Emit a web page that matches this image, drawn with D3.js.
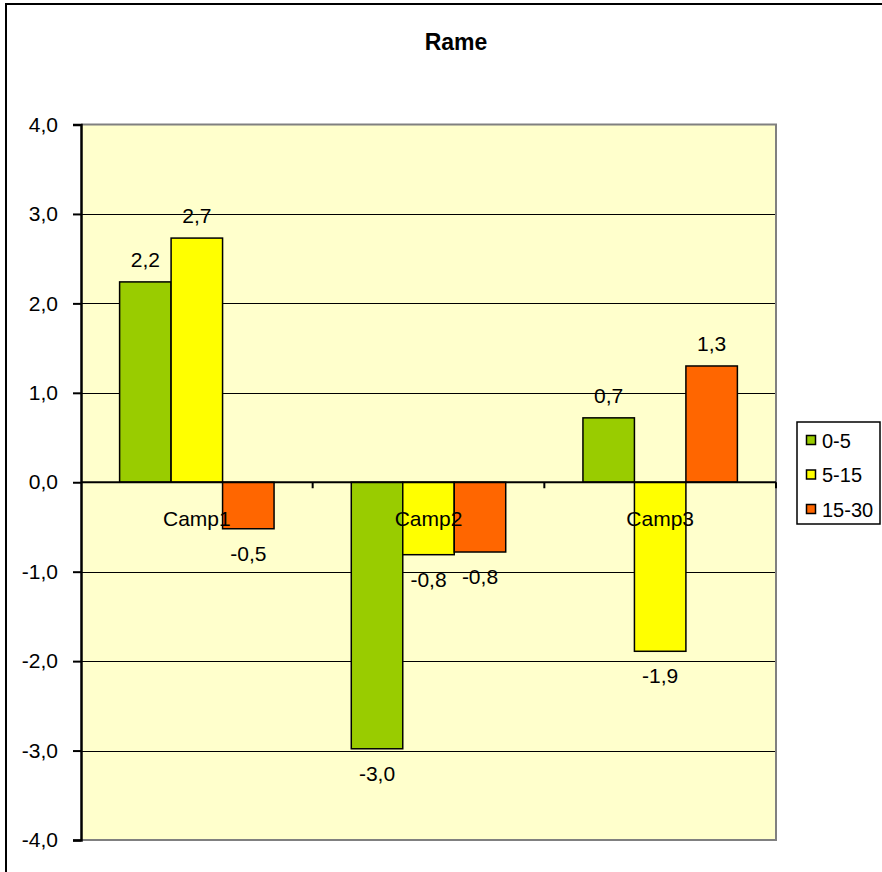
<!DOCTYPE html>
<html>
<head>
<meta charset="utf-8">
<script src="https://cdn.jsdelivr.net/npm/d3@7"></script>
<style>
  html, body { margin: 0; padding: 0; background: #fff; }
  svg { display: block; font-family: "Liberation Sans", Arial, sans-serif; }
</style>
</head>
<body>
<svg id="chart" width="882" height="872"></svg>
<script>
// Chart data
const categories = ["Camp1", "Camp2", "Camp3"];
const seriesNames = ["0-5", "5-15", "15-30"];
const values0to5 = [2.24, -2.98, 0.72];
const values5to15 = [2.73, -0.81, -1.89];
const values15to30 = [-0.52, -0.78, 1.30];
const yTickValues = [-4, -3, -2, -1, 0, 1, 2, 3, 4];
const title = "Rame";

const seriesColors = ["#99CC00", "#FFFF00", "#FF6600"];
const seriesValues = [values0to5, values5to15, values15to30];

const locale = d3.formatLocale({ decimal: ",", thousands: ".", grouping: [3], currency: ["", ""], minus: "-" });
const fmt = locale.format(".1f");

const svg = d3.select("#chart");

// Outer chart frame (extends past the right and bottom edges)
svg.append("rect")
  .attr("x", 6).attr("y", 4)
  .attr("width", 900).attr("height", 900)
  .attr("fill", "#fff").attr("stroke", "#000").attr("stroke-width", 2);

// Plot area geometry
const plot = { left: 81, right: 776, top: 124.5, bottom: 840 };

const y = d3.scaleLinear().domain([-4, 4]).range([plot.bottom, plot.top]);
const x = d3.scaleBand().domain(categories).range([plot.left, plot.right]).padding(0);
// gap between groups equals 1.5 bar widths
const bw = x.bandwidth();
const barW = bw / (seriesNames.length + 1.5);
const xs = d3.scaleBand().domain(seriesNames)
  .range([(bw - barW * seriesNames.length) / 2, (bw + barW * seriesNames.length) / 2]).padding(0);

// Plot background
svg.append("rect")
  .attr("x", plot.left).attr("y", plot.top)
  .attr("width", plot.right - plot.left).attr("height", plot.bottom - plot.top)
  .attr("fill", "#FFFFCC");

// Horizontal gridlines
svg.append("g")
  .selectAll("line")
  .data(yTickValues.filter(v => v !== 4 && v !== -4 && v !== 0))
  .join("line")
  .attr("x1", plot.left).attr("x2", plot.right)
  .attr("y1", d => Math.round(y(d)) + 0.5).attr("y2", d => Math.round(y(d)) + 0.5)
  .attr("stroke", "#000").attr("stroke-width", 1);

// Plot border (top, right, bottom)
svg.append("path")
  .attr("d", `M${plot.left},${plot.top}H${plot.right}V${plot.bottom}H${plot.left}`)
  .attr("fill", "none").attr("stroke", "#808080").attr("stroke-width", 2);

// Bars
const groups = svg.append("g").selectAll("g")
  .data(seriesNames)
  .join("g")
  .attr("fill", (d, i) => seriesColors[i]);

groups.selectAll("rect")
  .data((s, i) => categories.map((c, j) => ({ cat: c, series: s, v: seriesValues[i][j] })))
  .join("rect")
  .attr("x", d => x(d.cat) + xs(d.series))
  .attr("width", xs.bandwidth())
  .attr("y", d => y(Math.max(0, d.v)))
  .attr("height", d => Math.abs(y(d.v) - y(0)))
  .attr("stroke", "#000").attr("stroke-width", 1.5);

// Zero line and category tick marks
svg.append("line")
  .attr("x1", plot.left).attr("x2", plot.right)
  .attr("y1", y(0)).attr("y2", y(0))
  .attr("stroke", "#000").attr("stroke-width", 2);

const xAxis = d3.axisBottom(x).tickSize(0).tickFormat("");
const boundaries = categories.map(c => x(c) + bw);
svg.append("g")
  .selectAll("line")
  .data(boundaries)
  .join("line")
  .attr("x1", d => d).attr("x2", d => d)
  .attr("y1", y(0)).attr("y2", y(0) + 6)
  .attr("stroke", "#000").attr("stroke-width", 2);

// Category labels below the zero line
svg.append("g")
  .selectAll("text")
  .data(categories)
  .join("text")
  .attr("x", d => x(d) + bw / 2)
  .attr("y", y(0) + 44)
  .attr("text-anchor", "middle")
  .attr("font-size", 21)
  .attr("fill", "#000")
  .text(d => d);

// Y axis
const yAxis = d3.axisLeft(y).tickValues(yTickValues).tickSize(8).tickPadding(15).tickFormat(fmt);
const yg = svg.append("g").attr("transform", `translate(${plot.left},0)`).call(yAxis);
yg.select(".domain").attr("stroke", "#000").attr("stroke-width", 2.5);
yg.selectAll(".tick line").attr("stroke", "#000").attr("stroke-width", 2);
yg.selectAll(".tick text")
  .attr("font-family", "Liberation Sans, Arial, sans-serif")
  .attr("font-size", 21).attr("fill", "#000");

// Data labels
groups.selectAll("text")
  .data((s, i) => categories.map((c, j) => ({ cat: c, series: s, v: seriesValues[i][j] })))
  .join("text")
  .attr("x", d => x(d.cat) + xs(d.series) + xs.bandwidth() / 2)
  .attr("y", d => d.v >= 0 ? y(d.v) - 15 : y(d.v) + 32)
  .attr("text-anchor", "middle")
  .attr("font-size", 21)
  .attr("fill", "#000")
  .text(d => fmt(d.v));

// Title
svg.append("text")
  .attr("x", 456).attr("y", 50)
  .attr("text-anchor", "middle")
  .attr("font-size", 23).attr("font-weight", "bold")
  .text(title);

// Legend
const legend = svg.append("g");
legend.append("rect")
  .attr("x", 797).attr("y", 422).attr("width", 83).attr("height", 102)
  .attr("fill", "#fff").attr("stroke", "#000").attr("stroke-width", 1.5);
const legendY = d3.scalePoint().domain(seriesNames).range([440, 509]);
const items = legend.selectAll("g.item").data(seriesNames).join("g").attr("class", "item");
items.append("rect")
  .attr("x", 806.5).attr("y", d => legendY(d) - 4.5)
  .attr("width", 9).attr("height", 9)
  .attr("fill", (d, i) => seriesColors[i])
  .attr("stroke", "#000").attr("stroke-width", 1.5);
items.append("text")
  .attr("x", 822).attr("y", d => legendY(d) + 7.5)
  .attr("font-size", 20).attr("fill", "#000")
  .text(d => d);
</script>
</body>
</html>
